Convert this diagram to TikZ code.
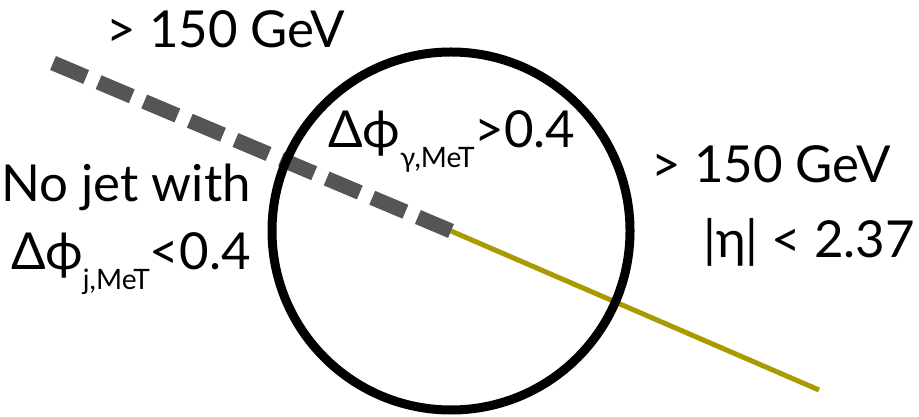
\documentclass[tikz,border=0pt]{standalone}
\usepackage{fontspec}
\setmainfont{Lato}
\usetikzlibrary{calc}
\definecolor{JetClr}{RGB}{85,85,85}
\definecolor{PhotonClr}{RGB}{170,153,0}
\newcommand{\dphisub}[1]{Δϕ\raisebox{-0.38em}{\fontsize{8}{8}\selectfont #1}}

\begin{document}
\begin{tikzpicture}[every node/.style={font=\fontsize{14.5}{17}\selectfont,inner sep=0pt}]
\useasboundingbox (0,0) rectangle (9.19,4.16);

\coordinate (O) at (4.51,1.85);
\coordinate (J) at (0.53,3.53);
\coordinate (G) at (8.19,0.26);

\draw[PhotonClr,line width=0.05cm] (O) -- (G);
\draw[JetClr,line width=0.15cm,dash pattern=on 0.36cm off 0.135cm] (J) -- (O);
\draw[line width=0.09cm] (O) circle (1.79);

% labels
\node[anchor=base] (jetpt) at (2.26,3.68) {> 150 GeV};
\node[anchor=base] (dphig) at (4.52,2.68) {\dphisub{γ,MeT}>0.4};
\node[anchor=base] (nojet) at (1.26,2.14) {No jet with};
\node[anchor=base] (dphij) at (1.31,1.46) {\dphisub{j,MeT}<0.4};
\node[anchor=base] (phpt) at (7.71,2.33) {> 150 GeV};
\node[anchor=base] (pheta) at (8.09,1.58) {|η| < 2.37};

\end{tikzpicture}
\end{document}
